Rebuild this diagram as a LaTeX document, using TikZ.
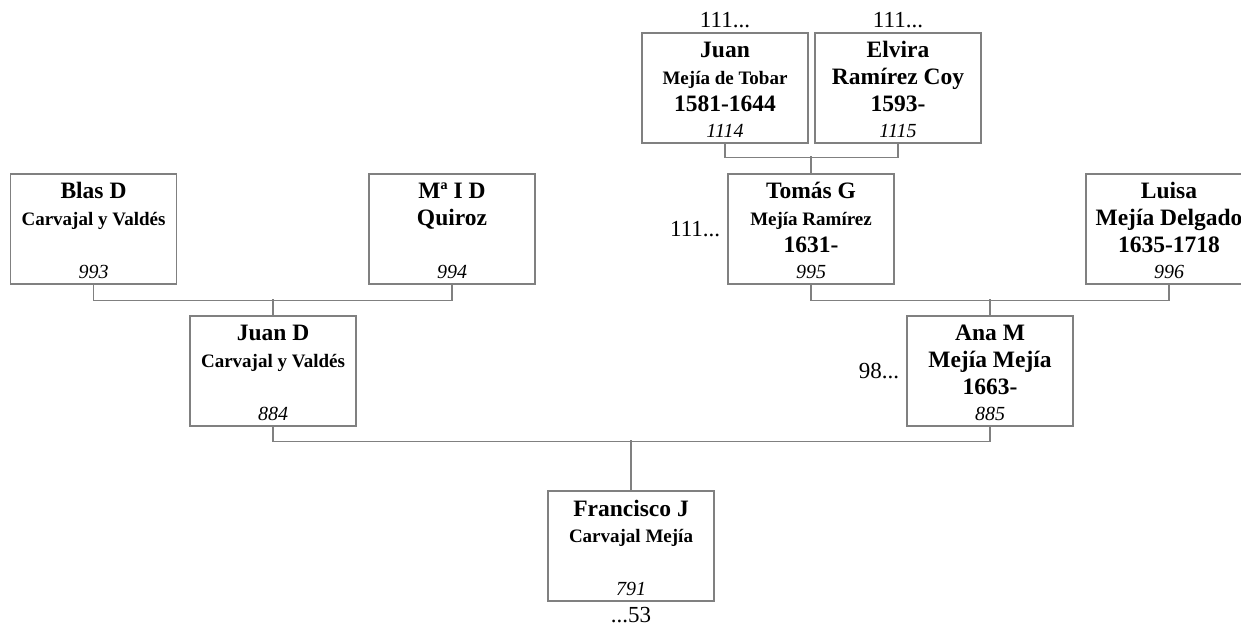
\documentclass[tikz,border=0pt]{standalone}
\usepackage{fontspec}
\setmainfont{Liberation Serif}
\definecolor{linegray}{RGB}{128,128,128}
\tikzset{
  x=1pt, y=-1pt,
  pbox/.style={draw=linegray, line width=1.3pt, minimum width=166pt, minimum height=110pt, inner sep=0pt, fill=white},
  nm/.style={anchor=base, inner sep=0pt, font=\fontsize{23.5}{25}\selectfont\bfseries},
  sm/.style={anchor=base, inner sep=0pt, font=\fontsize{19}{21}\selectfont\bfseries},
  num/.style={anchor=base, inner sep=0pt, font=\fontsize{20}{22}\selectfont\itshape},
  ref/.style={inner sep=0pt, font=\fontsize{23}{25}\selectfont},
  conn/.style={draw=linegray, line width=1.3pt}
}
\begin{document}
\begin{tikzpicture}
\useasboundingbox (0,0) rectangle (1241,626);
\clip (0,0) rectangle (1241,626);

% ---- row 1
\node[pbox] (p1114) at (725,88) {};
\node[nm]  (p1114a) at (725,57)  {Juan};
\node[sm]  (p1114b) at (725,84)  {Mejía de Tobar};
\node[nm]  (p1114c) at (725,111) {1581-1644};
\node[num] (p1114d) at (725,137) {1114};
\node[ref,anchor=base] (r1114) at (725,28) {111...};

\node[pbox] (p1115) at (898,88) {};
\node[nm]  (p1115a) at (898,57)  {Elvira};
\node[nm]  (p1115b) at (898,84)  {Ramírez Coy};
\node[nm]  (p1115c) at (898,111) {1593-};
\node[num] (p1115d) at (898,137) {1115};
\node[ref,anchor=base] (r1115) at (898,28) {111...};

% ---- row 2
\node[pbox] (p993) at (93.5,229) {};
\node[nm]  (p993a) at (93.5,198) {Blas D};
\node[sm]  (p993b) at (93.5,225) {Carvajal y Valdés};
\node[num] (p993d) at (93.5,278) {993};

\node[pbox] (p994) at (452,229) {};
\node[nm]  (p994a) at (452,198) {Mª I D};
\node[nm]  (p994b) at (452,225) {Quiroz};
\node[num] (p994d) at (452,278) {994};

\node[pbox] (p995) at (811,229) {};
\node[nm]  (p995a) at (811,198) {Tomás G};
\node[sm]  (p995b) at (811,225) {Mejía Ramírez};
\node[nm]  (p995c) at (811,252) {1631-};
\node[num] (p995d) at (811,278) {995};
\node[ref,anchor=east] (r995) at ([xshift=-7pt]p995.west) {111...};

\node[pbox] (p996) at (1169,229) {};
\node[nm]  (p996a) at (1169,198) {Luisa};
\node[nm]  (p996b) at (1169,225) {Mejía Delgado};
\node[nm]  (p996c) at (1169,252) {1635-1718};
\node[num] (p996d) at (1169,278) {996};

% ---- row 3
\node[pbox] (p884) at (273,371) {};
\node[nm]  (p884a) at (273,340) {Juan D};
\node[sm]  (p884b) at (273,367) {Carvajal y Valdés};
\node[num] (p884d) at (273,420) {884};

\node[pbox] (p885) at (990,371) {};
\node[nm]  (p885a) at (990,340) {Ana M};
\node[nm]  (p885b) at (990,367) {Mejía Mejía};
\node[nm]  (p885c) at (990,394) {1663-};
\node[num] (p885d) at (990,420) {885};
\node[ref,anchor=east] (r885) at ([xshift=-7pt]p885.west) {98...};

% ---- row 4
\node[pbox] (p791) at (631,546) {};
\node[nm]  (p791a) at (631,516) {Francisco J};
\node[sm]  (p791b) at (631,542) {Carvajal Mejía};
\node[num] (p791d) at (631,595) {791};
\node[ref,anchor=base] (r791) at (631,622) {...53};

% ---- connectors
\draw[conn] (p1114.south) -- ++(0,14) -| (p1115.south);
\draw[conn] (p995.north) -- ++(0,-17);

\draw[conn] (p993.south) -- ++(0,16) -| (p994.south);
\draw[conn] (p884.north) -- ++(0,-16);

\draw[conn] (p995.south) -- ++(0,16) -| (p996.south);
\draw[conn] (p885.north) -- ++(0,-16);

\draw[conn] (p884.south) -- ++(0,15) -| (p885.south);
\draw[conn] (p791.north) -- ++(0,-50);
\end{tikzpicture}
\end{document}
